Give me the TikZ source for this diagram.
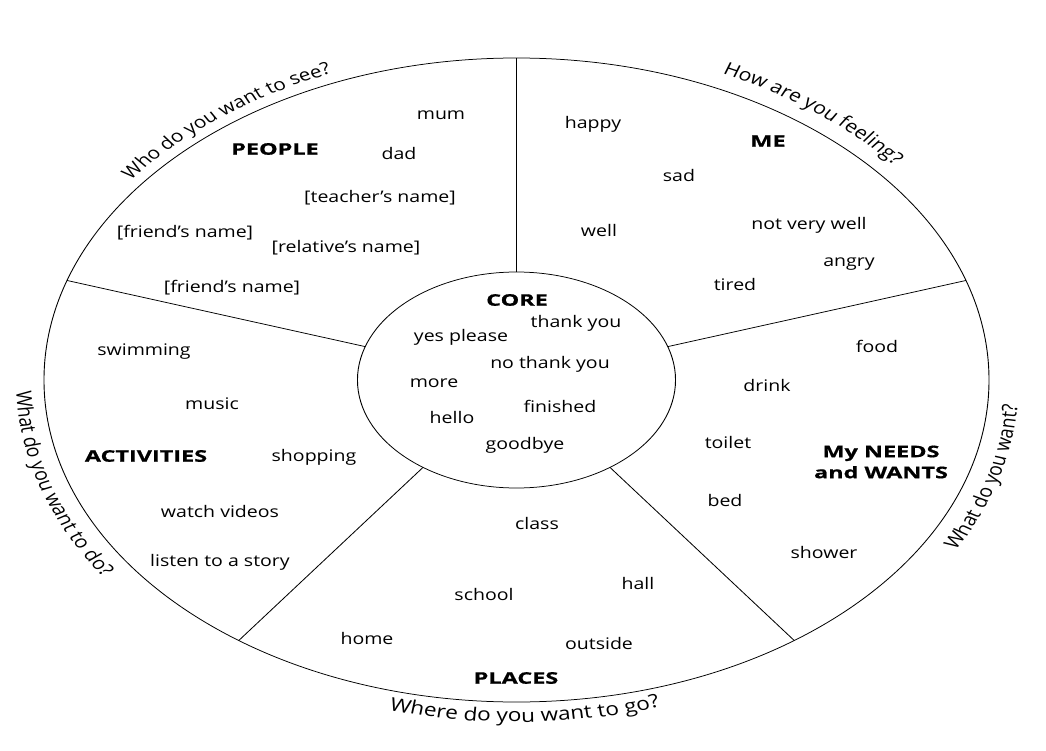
\documentclass[tikz,border=0pt]{standalone}
\usepackage{fontspec}
\setmainfont{Open Sans}
\newfontfamily\headfont{Open Sans}[FakeStretch=1.2,FakeBold=0.6]
\usetikzlibrary{shapes.geometric,decorations.text}
\begin{document}
\begin{tikzpicture}[
  lbl/.style={font=\fontsize{16}{18}\selectfont, inner sep=0pt},
  head/.style={font=\headfont\bfseries\fontsize{16}{21}\selectfont, inner sep=0pt, align=center},
  ring/.style={draw, ellipse, inner sep=0pt, outer sep=0pt, line width=0.75pt},
  divider/.style={line width=0.75pt},
  curved/.style={decorate, decoration={text along path, text align=center, text={#1}}}
]
\newcommand\curvefont[1]{\fontsize{#1}{20}\selectfont}
\useasboundingbox (-516.5pt,-370pt) rectangle (529.5pt,380pt);

\begin{scope}[transform canvas={xscale=1.22}, x=0.81967pt, y=1pt]
% rings
\node[ring, minimum width=774.6pt, minimum height=644pt] (outer) at (0,0) {};
\node[ring, minimum width=260.7pt, minimum height=216pt] (core) at (0,0) {};

% dividers
\foreach \t in {90,18,306,234,162}{
  \coordinate (o\t) at (\t:472.5 and 322);
  \coordinate (i\t) at (\t:159 and 108);
  \draw[divider] (i\t) -- (o\t);
}

% curved questions
\path[curved={|\curvefont{17}|Who do you want to see?}]
  (148:482.5 and 332) arc[start angle=148, end angle=108, x radius=482.5, y radius=332];
\path[curved={|\curvefont{17.5}|How are you feeling?}]
  (70:488.5 and 338) arc[start angle=70, end angle=34, x radius=488.5, y radius=338];
\path[curved={|\curvefont{18.5}|Where do you want to go?}]
  (250:492.5 and 342) arc[start angle=250, end angle=292, x radius=492.5, y radius=342];
\path[curved={|\curvefont{17.5}|What do you want to do?}]
  (178:500.5 and 350) arc[start angle=178, end angle=218, x radius=500.5, y radius=350];
\path[curved={|\curvefont{17.5}|What do you want?}]
  (328:502.5 and 352) arc[start angle=328, end angle=359, x radius=502.5, y radius=352];

\begin{scope}[shift={(-516.5,380)}, y=-1pt]
% PEOPLE
\node[lbl] (mum) at (441,115) {mum};
\node[head] (people) at (275,149) {PEOPLE};
\node[lbl] (dad) at (399,154) {dad};
\node[lbl] (teacher) at (380,198) {[teacher’s name]};
\node[lbl] (friend1) at (185,233) {[friend’s name]};
\node[lbl] (relative) at (346,248) {[relative’s name]};
\node[lbl] (friend2) at (232,288) {[friend’s name]};
% ME
\node[lbl] (happy) at (593,124) {happy};
\node[head] (me) at (768,141) {ME};
\node[lbl] (sad) at (679,176) {sad};
\node[lbl] (well) at (599,231) {well};
\node[lbl] (notwell) at (809,225) {not very well};
\node[lbl] (angry) at (849,264) {angry};
\node[lbl] (tired) at (735,284) {tired};
% CORE
\node[head] (corehead) at (517,300) {CORE};
\node[lbl] (thanks) at (576,323) {thank you};
\node[lbl] (yes) at (461,337) {yes please};
\node[lbl] (nothanks) at (550,364) {no thank you};
\node[lbl] (more) at (434,383) {more};
\node[lbl] (finished) at (560,406) {finished};
\node[lbl] (hello) at (452,417) {hello};
\node[lbl] (goodbye) at (525,445) {goodbye};
% ACTIVITIES
\node[lbl] (swimming) at (144,352) {swimming};
\node[lbl] (music) at (212,404) {music};
\node[head] (activities) at (146,456) {ACTIVITIES};
\node[lbl] (shopping) at (314,457) {shopping};
\node[lbl] (videos) at (220,511) {watch videos};
\node[lbl] (story) at (220,562) {listen to a story};
% NEEDS
\node[lbl] (food) at (877,346) {food};
\node[lbl] (drink) at (767,385) {drink};
\node[lbl] (toilet) at (728,442) {toilet};
\node[head] (needs) at (881,462) {My NEEDS\\and WANTS};
\node[lbl] (bed) at (725,500) {bed};
\node[lbl] (shower) at (824,552) {shower};
% PLACES
\node[lbl] (class) at (537,523) {class};
\node[lbl] (hall) at (638,583) {hall};
\node[lbl] (school) at (484,594) {school};
\node[lbl] (home) at (367,638) {home};
\node[lbl] (outside) at (599,643) {outside};
\node[head] (places) at (516,678) {PLACES};
\end{scope}
\end{scope}
\end{tikzpicture}
\end{document}
